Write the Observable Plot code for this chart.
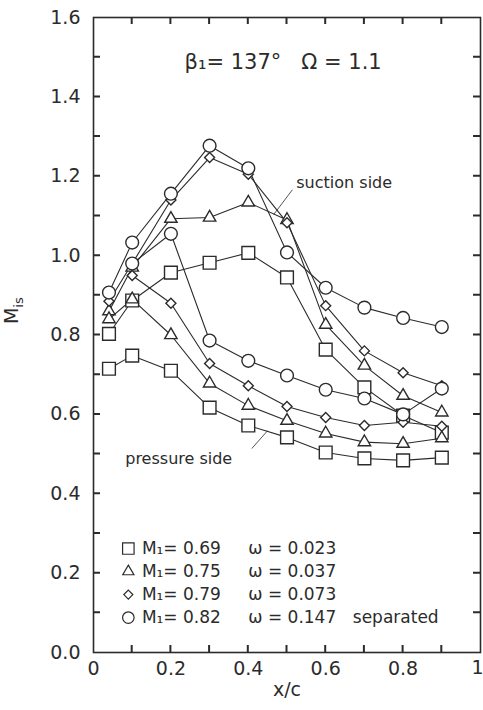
<!DOCTYPE html>
<html><head><meta charset="utf-8">
<script src="https://cdn.jsdelivr.net/npm/d3@7"></script>
<script src="https://cdn.jsdelivr.net/npm/@observablehq/plot@0.6"></script>
<style>body{margin:0;background:#fff} svg{display:block}</style>
</head><body><div id="chart"></div>
<script>
// x/c stations
const xPos = [0.04, 0.1, 0.2, 0.3, 0.4, 0.5, 0.6, 0.7, 0.8, 0.9];
// M1 = 0.69 (square)
const sqSuction  = [0.803, 0.887, 0.957, 0.982, 1.007, 0.945, 0.763, 0.668, 0.597, 0.554];
const sqPressure = [0.715, 0.748, 0.710, 0.617, 0.572, 0.542, 0.504, 0.489, 0.484, 0.491];
// M1 = 0.75 (triangle)
const triSuction  = [0.860, 0.970, 1.093, 1.096, 1.134, 1.090, 0.826, 0.723, 0.647, 0.605];
const triPressure = [0.840, 0.890, 0.800, 0.678, 0.622, 0.584, 0.552, 0.530, 0.526, 0.540];
// M1 = 0.79 (diamond)
const diaSuction  = [0.885, 0.980, 1.140, 1.247, 1.205, 1.083, 0.874, 0.760, 0.705, 0.672];
const diaPressure = [null, 0.950, 0.880, 0.728, 0.672, 0.620, 0.592, 0.572, 0.580, 0.570];
// M1 = 0.82 (circle, separated)
const cirSuction  = [0.907, 1.033, 1.156, 1.277, 1.220, 1.008, 0.919, 0.869, 0.843, 0.820];
const cirPressure = [null, 0.980, 1.055, 0.786, 0.735, 0.698, 0.662, 0.640, 0.600, 0.665];

const symbols = ["square", "triangle", "diamond2", "circle"];
const legendM = ["0.69", "0.75", "0.79", "0.82"];
const legendOmega = ["0.023", "0.037", "0.073", "0.147"];
const legendNote = ["", "", "", "separated"];
const legendY = [0.262, 0.204, 0.146, 0.088];

const xTicksLabeled = [0, 0.2, 0.4, 0.6, 0.8];
const xTickLast = [1];
const yTicksLabeled = [0, 0.2, 0.4, 0.6, 0.8, 1.0, 1.2, 1.4, 1.6];
const xTicksMinor = [0.1, 0.2, 0.3, 0.4, 0.5, 0.6, 0.7, 0.8, 0.9];
const yTicksMinor = [0.1, 0.2, 0.3, 0.4, 0.5, 0.6, 0.7, 0.8, 0.9, 1.0, 1.1, 1.2, 1.3, 1.4, 1.5];

const seriesArrays = [
  [sqSuction, sqPressure], [triSuction, triPressure],
  [diaSuction, diaPressure], [cirSuction, cirPressure]
];
const rows = [];
seriesArrays.forEach((pair, si) => pair.forEach((arr, side) => arr.forEach((v, i) => {
  if (v != null) rows.push({x: xPos[i], y: v, sym: symbols[si], key: si + "-" + side});
})));
const legendRows = symbols.map((s, i) => ({
  sym: s, y: legendY[i], m: "M\u2081= " + legendM[i], w: "\u03c9 = " + legendOmega[i], note: legendNote[i]
}));

const W = 483, H = 710, mL = 93, mR = 3, mT = 17, mB = 58;
const tickLen = 7;

const symR = {square: 7.2, triangle: 4.6, diamond2: 4.5, circle: 6.4};
const ink = "#2b2b2b";
const font = "DejaVu Sans, Arial, sans-serif";

const marks = [
  Plot.frame({stroke: ink, strokeWidth: 1.6}),
  Plot.axisY({anchor: "left", ticks: yTicksLabeled, tickSize: 0, tickPadding: 13, tickFormat: d3.format(".1f"), label: null, fontSize: 19, fill: ink}),
  Plot.axisX({anchor: "bottom", ticks: xTicksLabeled, tickSize: 0, tickPadding: 9, tickFormat: d => d === 0 ? "0" : d.toFixed(1), label: null, fontSize: 19, fill: ink}),
  Plot.text(xTickLast, {x: d => d, frameAnchor: "bottom", dy: 21, textAnchor: "end", dx: 3, fontSize: 19, fill: ink}),
  Plot.text(["x/c"], {frameAnchor: "bottom", dy: 43, fontSize: 19, fill: ink}),
  Plot.line(rows, {x: "x", y: "y", z: "key", stroke: ink, strokeWidth: 1.1}),
  ...symbols.map(s => Plot.dot(rows.filter(d => d.sym === s), {x: "x", y: "y", symbol: s, r: symR[s], fill: "white", stroke: ink, strokeWidth: 1.4})),
  Plot.text(["\u03b2\u2081= 137\u00b0   \u03a9 = 1.1"], {x: 0.49, y: 1.486, fontSize: 21, fill: ink}),
  Plot.text(["suction side"], {x: 0.524, y: 1.184, textAnchor: "start", fontSize: 16, fill: ink}),
  Plot.link([{x1: 0.514, y1: 1.166, x2: 0.466, y2: 1.104}], {x1: "x1", y1: "y1", x2: "x2", y2: "y2", stroke: ink, strokeWidth: 0.8}),
  Plot.text(["pressure side"], {x: 0.082, y: 0.489, textAnchor: "start", fontSize: 16, fill: ink}),
  Plot.link([{x1: 0.409, y1: 0.514, x2: 0.45, y2: 0.559}], {x1: "x1", y1: "y1", x2: "x2", y2: "y2", stroke: ink, strokeWidth: 0.8}),
  ...symbols.map(s => Plot.dot(legendRows.filter(d => d.sym === s), {x: () => 0.09, y: "y", symbol: s, r: symR[s] * 0.9, fill: "white", stroke: ink, strokeWidth: 1.2})),
  Plot.text(legendRows, {x: () => 0.125, y: "y", text: "m", textAnchor: "start", fontSize: 17, fill: ink}),
  Plot.text(legendRows, {x: () => 0.40, y: "y", text: "w", textAnchor: "start", fontSize: 17, fill: ink}),
  Plot.text(legendRows, {x: () => 0.67, y: "y", text: "note", textAnchor: "start", fontSize: 17, fill: ink})
];

const chart = Plot.plot({
  width: W, height: H,
  marginLeft: mL, marginRight: mR, marginTop: mT, marginBottom: mB,
  style: {fontFamily: font, background: "#fff", color: ink},
  x: {domain: [0, 1], axis: null},
  y: {domain: [0, 1.6], axis: null},
  marks
});
document.getElementById("chart").appendChild(chart);

// inward ticks on all four sides, positioned with Plot's scales
const xs = chart.scale("x"), ys = chart.scale("y");
let dPath = "";
yTicksMinor.forEach(v => {
  const py = ys.apply(v);
  dPath += `M${xs.apply(0)},${py}h${tickLen}M${xs.apply(1)},${py}h${-tickLen}`;
});
xTicksMinor.forEach(v => {
  const px = xs.apply(v);
  dPath += `M${px},${ys.apply(0)}v${-tickLen}M${px},${ys.apply(1.6)}v${tickLen}`;
});
d3.select(chart).append("path").attr("d", dPath)
  .attr("fill", "none").attr("stroke", ink).attr("stroke-width", 2);

// y-axis title with subscript
const yMid = ys.apply(0.86);
const t = d3.select(chart).append("text")
  .attr("transform", `translate(18,${yMid}) rotate(-90)`)
  .attr("text-anchor", "middle")
  .attr("font-family", font).attr("font-size", 19).attr("fill", ink);
t.append("tspan").text("M");
t.append("tspan").attr("font-size", 13).attr("dy", 5).text("is");
</script></body></html>
